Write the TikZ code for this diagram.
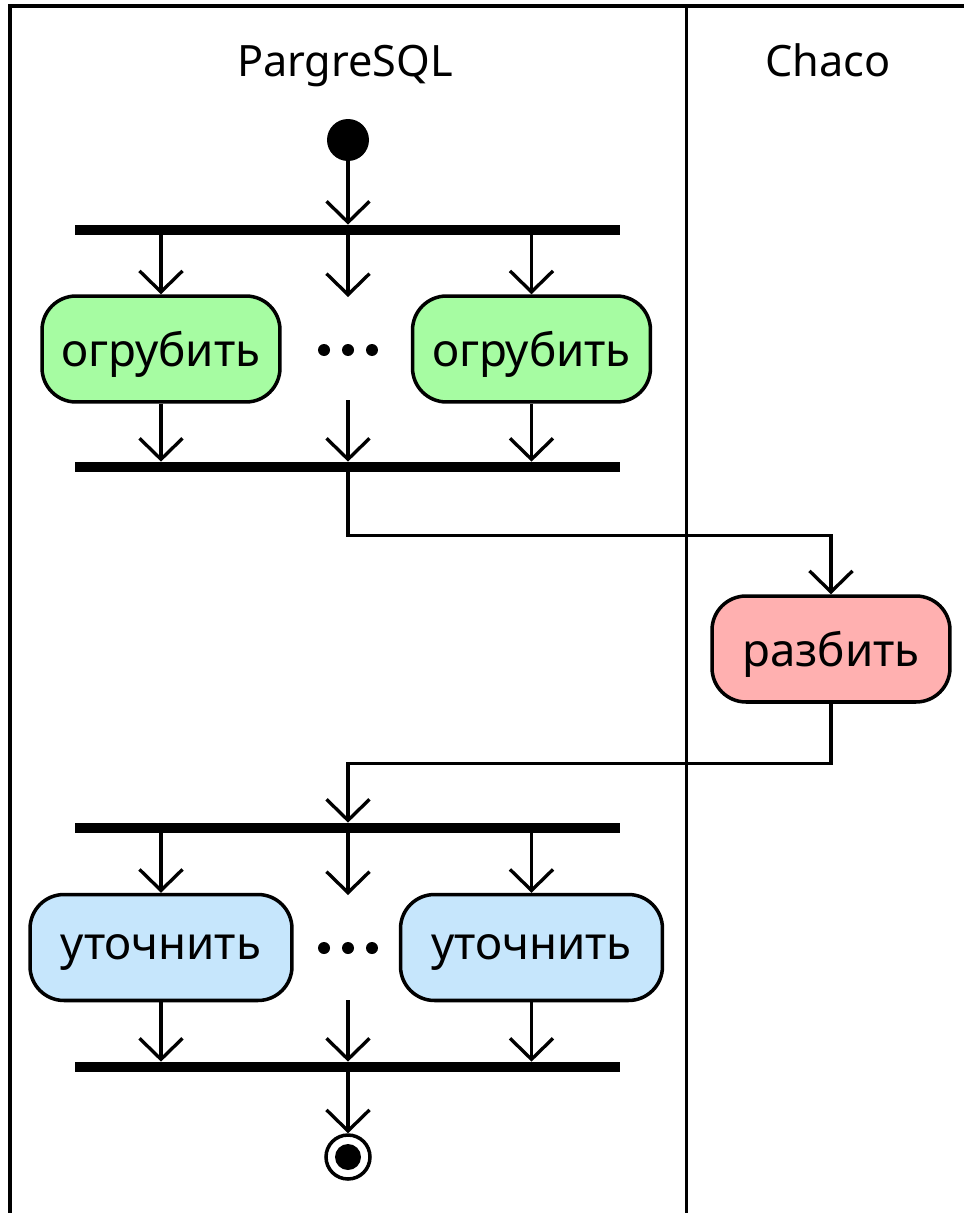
\documentclass[tikz,border=0pt]{standalone}
\usepackage{fontspec}
\setmainfont{Noto Sans}
\usetikzlibrary{arrows.meta,positioning}

\definecolor{coarsegreen}{RGB}{166,252,162}
\definecolor{splitred}{RGB}{255,176,176}
\definecolor{refineblue}{RGB}{198,230,252}

\tikzset{
  flow/.style={line width=1.9pt, -{Straight Barb[length=0.42cm,width=0.86cm,line width=1.9pt]}},
  action/.style={draw, line width=2pt, rounded corners=0.68cm, minimum height=2.12cm,
    inner sep=0pt, text depth=0pt, font=\fontsize{26}{31}\selectfont},
  bar/.style={fill=black, minimum width=10.9cm, minimum height=0.2cm, inner sep=0pt},
  lane/.style={anchor=base, font=\fontsize{24.6}{30}\selectfont},
}

\begin{document}
\begin{tikzpicture}[x=0.02cm, y=-0.02cm]
  \useasboundingbox (0,0) rectangle (964,1213);

  % Swimlanes
  \draw[line width=2.2pt] (10,1213) -- (10,6) -- (964,6);
  \draw[line width=1.7pt] (686,6) -- (686,1213);
  \node[lane] (laneA) at (345,77) {PargreSQL};
  \node[lane] (laneB) at (828,77) {Chaco};

  % Start and first fork
  \node[circle, fill=black, minimum size=0.84cm, inner sep=0pt] (start) at (348,140) {};
  \node[bar] (fork1) at (347.5,230) {};
  \node[action, fill=coarsegreen, minimum width=4.76cm] (coarseA) at (161,349) {огрубить};
  \node[action, fill=coarsegreen, minimum width=4.76cm] (coarseB) at (531.5,349) {огрубить};
  \node[bar] (join1) at (347.5,467) {};

  % Partitioning
  \node[action, fill=splitred, minimum width=4.76cm] (split) at (831,649) {разбить};

  % Second fork
  \node[bar] (fork2) at (347.5,828) {};
  \node[action, fill=refineblue, minimum width=5.24cm] (refineA) at (161,947.5) {уточнить};
  \node[action, fill=refineblue, minimum width=5.24cm] (refineB) at (531.5,947.5) {уточнить};
  \node[bar] (join2) at (347.5,1067) {};

  % Final node
  \node[circle, draw, line width=2pt, minimum size=0.88cm, inner sep=0pt] (stop) at (348,1157) {};
  \fill (stop) circle (0.26cm);

  % Dots between the parallel actions
  \coordinate (dotsA) at (348,350);
  \coordinate (dotsB) at (348,948);
  \foreach \d in {dotsA,dotsB} {
    \foreach \dx in {-0.48,0,0.48} {
      \fill ([xshift=\dx cm]\d) circle (0.12cm);
    }
  }

  % Flows
  \draw[flow] (start) -- (fork1.north -| start);
  \foreach \n in {coarseA,coarseB} {
    \draw[flow] (fork1.south -| \n) -- (\n);
    \draw[flow] (\n) -- (join1.north -| \n);
  }
  \foreach \n in {refineA,refineB} {
    \draw[flow] (fork2.south -| \n) -- (\n);
    \draw[flow] (\n) -- (join2.north -| \n);
  }
  \coordinate (gapA) at (348,297);
  \coordinate (gapB) at (348,400);
  \coordinate (gapC) at (348,895);
  \coordinate (gapD) at (348,1000);
  \draw[flow] (fork1.south -| gapA) -- (gapA);
  \draw[flow] (gapB) -- (join1.north -| gapB);
  \draw[flow] (fork2.south -| gapC) -- (gapC);
  \draw[flow] (gapD) -- (join2.north -| gapD);

  \draw[flow] (join1.south -| start) -- ++(0,63) -| (split);
  \draw[flow] (split.south) -- ++(0,60) -| (fork2.north -| start);
  \draw[flow] (join2.south -| stop) -- (stop);
\end{tikzpicture}
\end{document}
